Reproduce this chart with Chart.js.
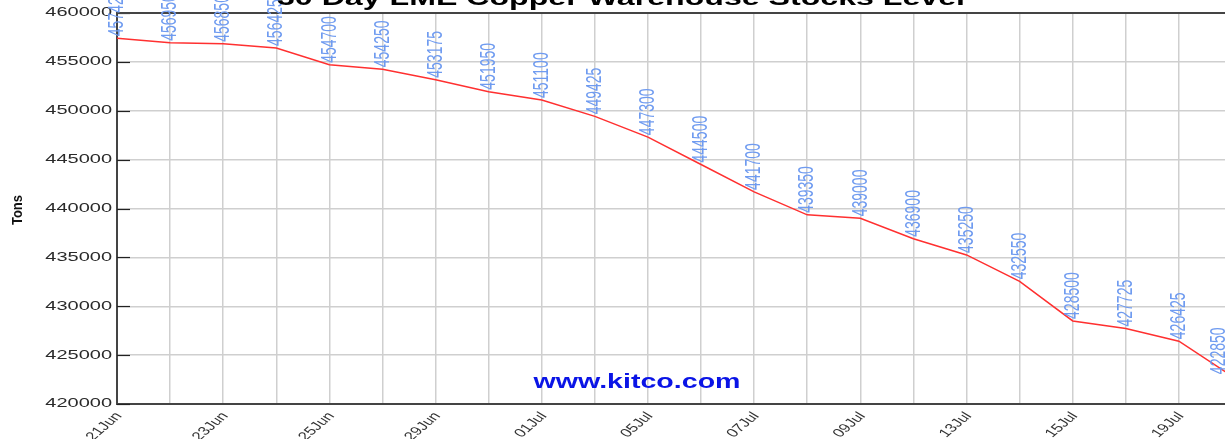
<!DOCTYPE html>
<html>
<head>
<meta charset="utf-8">
<script src="https://cdn.jsdelivr.net/npm/chart.js@4.4.1/dist/chart.umd.min.js"></script>
<style>
  html, body { margin: 0; padding: 0; background: #fff; overflow: hidden; }
  #wrap { position: relative; width: 1232px; height: 439px; }
</style>
</head>
<body>
<div id="wrap"><canvas id="chartStocks"></canvas></div>
<script>
const chartTitle = '30 Day LME Copper Warehouse Stocks Level';
const labels = ['21Jun', '22Jun', '23Jun', '24Jun', '25Jun', '28Jun', '29Jun', '30Jun', '01Jul', '02Jul', '05Jul',
                '06Jul', '07Jul', '08Jul', '09Jul', '12Jul', '13Jul', '14Jul', '15Jul', '16Jul', '19Jul', '20Jul'];
const stocks = [457425, 456950, 456850, 456425, 454700, 454250, 453175, 451950, 451100, 449425, 447300,
                444500, 441700, 439350, 439000, 436900, 435250, 432550, 428500, 427725, 426425, 422850];
const yMin = 420000, yMax = 460000, yStep = 5000;

// the original picture is stretched sideways, so text is drawn wide
const SX = 1.6;
const FONT = 'Arial, "Liberation Sans", sans-serif';

function stretchedText(ctx, str, x, y, sx, rot) {
    ctx.save();
    ctx.translate(x, y);
    ctx.scale(sx, 1);
    if (rot) ctx.rotate(rot);
    ctx.fillText(str, 0, 0);
    ctx.restore();
}

// title, watermark, frame, inner y ticks, all texts
const extras = {
    id: 'extras',
    afterDatasetsDraw(chart) {
        const ctx = chart.ctx;
        const area = chart.chartArea;
        const xScale = chart.scales.x;
        const yScale = chart.scales.y;
        const meta = chart.getDatasetMeta(0);

        ctx.save();
        // inner tick marks on y axis
        ctx.strokeStyle = '#222';
        ctx.lineWidth = 1.2;
        yScale.ticks.forEach((t, i) => {
            const y = Math.round(yScale.getPixelForTick(i)) + 0.5;
            ctx.beginPath();
            ctx.moveTo(area.left, y);
            ctx.lineTo(area.left + 13, y);
            ctx.stroke();
        });
        // top frame line
        ctx.strokeStyle = '#444';
        ctx.lineWidth = 2;
        ctx.beginPath();
        ctx.moveTo(area.left, area.top);
        ctx.lineTo(area.right + 10, area.top);
        ctx.stroke();

        // y tick labels
        ctx.fillStyle = '#2a2a2a';
        ctx.font = '12.5px ' + FONT;
        ctx.textAlign = 'right';
        ctx.textBaseline = 'middle';
        yScale.ticks.forEach((t, i) => {
            stretchedText(ctx, String(t.value), 112, yScale.getPixelForTick(i), SX);
        });

        // x tick labels, every other day
        ctx.fillStyle = '#333';
        ctx.font = '12px ' + FONT;
        ctx.textAlign = 'right';
        ctx.textBaseline = 'middle';
        labels.forEach((lab, i) => {
            if (i % 2 !== 0) return;
            stretchedText(ctx, lab, xScale.getPixelForValue(i) + 2, area.bottom + 10, 1.4, -0.87);
        });

        // axis title
        ctx.fillStyle = '#111';
        ctx.font = 'bold 13px ' + FONT;
        ctx.textAlign = 'center';
        stretchedText(ctx, 'Tons', 18, 210, 1.1, -Math.PI / 2);

        // value labels
        ctx.fillStyle = '#6f9bf0';
        ctx.font = '14px ' + FONT;
        ctx.textAlign = 'left';
        ctx.textBaseline = 'middle';
        meta.data.forEach((pt, i) => {
            const x = Math.min(pt.x, 1219);
            stretchedText(ctx, String(stocks[i]), x, pt.y - 2, SX, -Math.PI / 2);
        });

        // watermark
        ctx.fillStyle = '#0a14e6';
        ctx.font = 'bold 21px ' + FONT;
        ctx.textAlign = 'center';
        ctx.textBaseline = 'alphabetic';
        stretchedText(ctx, 'www.kitco.com', 637, 388, 207 / ctx.measureText('www.kitco.com').width);

        // title (cut off at the top like the original)
        ctx.fillStyle = '#000';
        ctx.font = 'bold 22px ' + FONT;
        stretchedText(ctx, chartTitle, 621, 5, 688 / ctx.measureText(chartTitle).width);
        ctx.restore();
    }
};

const ctx = document.getElementById('chartStocks').getContext('2d');
const chart = new Chart(ctx, {
    type: 'line',
    data: {
        labels: labels,
        datasets: [{
            label: 'Stocks',
            data: stocks,
            borderColor: '#ff3030',
            backgroundColor: 'rgba(0, 0, 0, 0)',
            borderWidth: 1.5,
            pointRadius: 0,
            tension: 0
        }]
    },
    options: {
        responsive: true,
        maintainAspectRatio: false,
        animation: false,
        layout: { padding: { top: 13, left: 0, right: 0, bottom: 0 } },
        plugins: {
            legend: { display: false },
            tooltip: { enabled: false },
            title: { display: false }
        },
        scales: {
            x: {
                offset: false,
                grid: { color: '#cfcfcf', lineWidth: 1.5, drawTicks: false },
                border: { color: '#444', width: 2 },
                ticks: { display: false, autoSkip: false },
                afterFit: scale => { scale.height = 35; }
            },
            y: {
                min: yMin,
                max: yMax,
                grid: { color: '#cfcfcf', lineWidth: 1.5, drawTicks: false },
                border: { color: '#444', width: 2 },
                ticks: { display: false, stepSize: yStep },
                afterFit: scale => { scale.width = 117; }
            }
        }
    },
    plugins: [extras]
});
</script>
</body>
</html>
